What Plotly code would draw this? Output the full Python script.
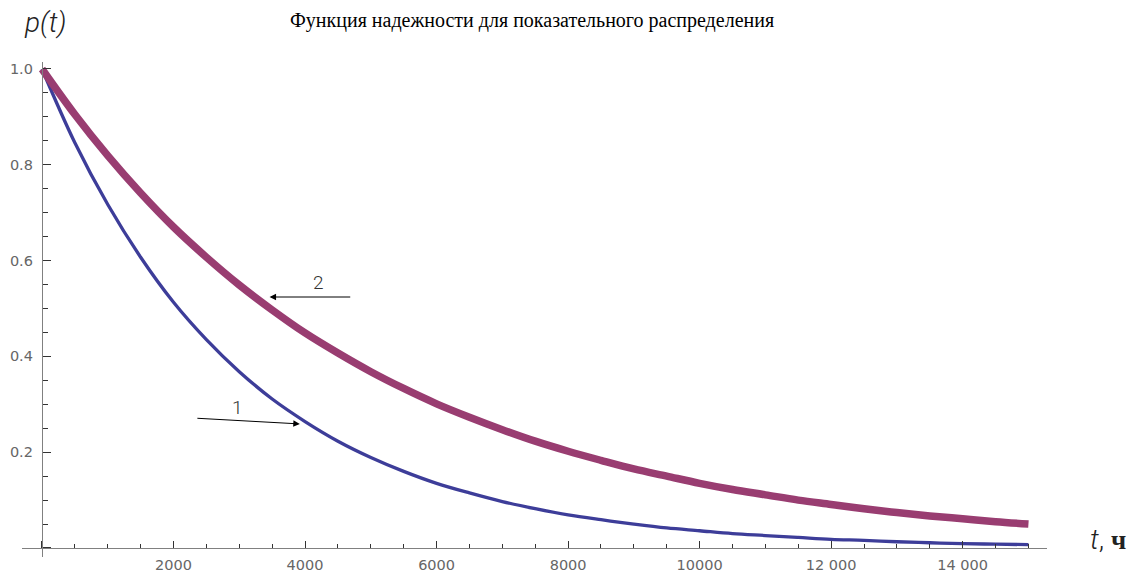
import plotly.graph_objects as go

# Наработка t, ч
t_hours = [0, 500, 1000, 1500, 2000, 2500, 3000, 3500, 4000, 4500, 5000,
           5500, 6000, 6500, 7000, 7500, 8000, 8500, 9000, 9500, 10000,
           10500, 11000, 11500, 12000, 12500, 13000, 13500, 14000, 14500, 15000]

# Кривая 1 — вероятность безотказной работы p(t)
p_curve1 = [1.000, 0.846, 0.717, 0.607, 0.513, 0.435, 0.368, 0.311, 0.264, 0.223, 0.189,
            0.160, 0.135, 0.115, 0.097, 0.082, 0.069, 0.059, 0.050, 0.042, 0.036,
            0.030, 0.026, 0.022, 0.018, 0.016, 0.013, 0.011, 0.009, 0.008, 0.007]

# Кривая 2
p_curve2 = [1.000, 0.905, 0.819, 0.741, 0.670, 0.607, 0.549, 0.497, 0.449, 0.407, 0.368,
            0.333, 0.301, 0.273, 0.247, 0.223, 0.202, 0.183, 0.165, 0.150, 0.135,
            0.122, 0.111, 0.100, 0.091, 0.082, 0.074, 0.067, 0.061, 0.055, 0.050]

x_tick_vals = [0, 2000, 4000, 6000, 8000, 10000, 12000, 14000]
x_tick_text = ["", "2000", "4000", "6000", "8000", "10000", "12 000", "14 000"]
y_tick_vals = [0, 0.2, 0.4, 0.6, 0.8, 1.0]
y_tick_text = ["", "0.2", "0.4", "0.6", "0.8", "1.0"]

title_text = "Функция надежности для показательного распределения"

W, H = 1136, 573

fig = go.Figure()
fig.add_trace(go.Scatter(x=t_hours, y=p_curve1, mode="lines",
                         line=dict(color="#3d3d99", width=3.3, shape="spline"),
                         cliponaxis=False, showlegend=False))
fig.add_trace(go.Scatter(x=t_hours, y=p_curve2, mode="lines",
                         line=dict(color="#993d71", width=7.5, shape="spline"),
                         cliponaxis=False, showlegend=False))

tick_font = dict(family="DejaVu Sans", size=14.5, color="#666666")

fig.update_layout(
    width=W, height=H,
    margin=dict(l=0, r=0, t=0, b=0),
    paper_bgcolor="white", plot_bgcolor="white",
    xaxis=dict(domain=[22 / W, 1047 / W], range=[-304, 15282],
               anchor="free", position=25 / H, side="bottom",
               showgrid=False, zeroline=False,
               showline=True, linecolor="#808080", linewidth=1.3,
               tickmode="array", tickvals=x_tick_vals, ticktext=x_tick_text,
               ticks="inside", ticklen=7, tickwidth=1, tickcolor="#333333",
               minor=dict(ticks="inside", dtick=500, tick0=0, ticklen=4,
                          tickwidth=1, tickcolor="#333333", showgrid=False),
               tickfont=tick_font, ticklabelstandoff=3),
    yaxis=dict(domain=[16 / H, 511 / H], range=[-0.0188, 1.0146],
               anchor="free", position=42 / W, side="left",
               showgrid=False, zeroline=False,
               showline=True, linecolor="#808080", linewidth=1.3,
               tickmode="array", tickvals=y_tick_vals, ticktext=y_tick_text,
               ticks="inside", ticklen=8, tickwidth=1, tickcolor="#333333",
               minor=dict(ticks="inside", dtick=0.05, tick0=0, ticklen=5,
                          tickwidth=1, tickcolor="#333333", showgrid=False),
               tickfont=tick_font, ticklabelstandoff=6),
)

light = dict(family="Roboto", color="#222222", weight=300)

annotations = [
    dict(text=title_text, x=532 / W, y=1 - 20 / H, xref="paper", yref="paper",
         xanchor="center", yanchor="middle", showarrow=False,
         font=dict(family="Liberation Serif", size=20, color="#000000")),
    dict(text="<i>p(t)</i>", x=45 / W, y=1 - 23 / H, xref="paper", yref="paper",
         xanchor="center", yanchor="middle", showarrow=False,
         font=dict(light, size=28)),
    dict(text='<i>t</i>, <span style="font-family:Liberation Serif;font-weight:bold;font-size:27px">ч</span>',
         x=1108 / W, y=1 - 539 / H, xref="paper", yref="paper",
         xanchor="center", yanchor="middle", showarrow=False,
         font=dict(light, size=28)),
    # подписи кривых
    dict(text="2", x=4200, y=0.555, xref="x", yref="y", showarrow=False,
         font=dict(light, size=19, color="#333333")),
    dict(text="1", x=2980, y=0.293, xref="x", yref="y", showarrow=False,
         font=dict(light, size=19, color="#333333")),
    # стрелки к кривым
    dict(text="", x=3460, y=0.524, ax=4710, ay=0.524, xref="x", yref="y",
         axref="x", ayref="y", showarrow=True, arrowhead=2, arrowsize=1.3,
         arrowwidth=1, arrowcolor="#000000"),
    dict(text="", x=3920, y=0.259, ax=2340, ay=0.271, xref="x", yref="y",
         axref="x", ayref="y", showarrow=True, arrowhead=2, arrowsize=1.3,
         arrowwidth=1, arrowcolor="#000000"),
]
fig.update_layout(annotations=annotations)

fig.write_html("out.html")
